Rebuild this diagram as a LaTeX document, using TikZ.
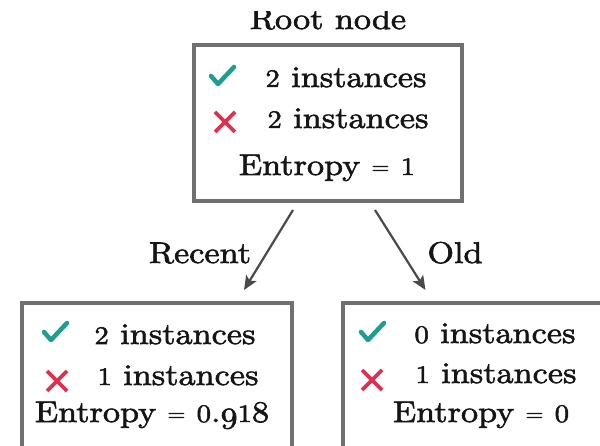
\documentclass[tikz,border=0pt]{standalone}
\usepackage{fontspec}
\setmainfont{lmroman10-regular.otf}[FakeStretch=1.14, FakeBold=2]
\usetikzlibrary{arrows.meta,calc}
\definecolor{ink}{HTML}{151515}
\definecolor{boxgray}{HTML}{707070}
\definecolor{arrowgray}{HTML}{4A4A4A}
\definecolor{tickgreen}{HTML}{1E9E8E}
\definecolor{crossred}{HTML}{E0304E}
% old-style figures built from the lining ones
\newcommand\sd[1]{\scalebox{0.84}{#1}}        % x-height figures: 0 1 2
\newcommand\dd[1]{\raisebox{-6.5pt}{#1}}       % descending figure: 9
\newcommand\eqs{\raisebox{1.5pt}{\fontsize{20}{20}\selectfont =}}
\begin{document}
\begin{tikzpicture}[x=1pt,y=-1pt,
  box/.style={draw=boxgray, line width=4pt, rectangle, inner sep=0pt},
  txt/.style={font=\fontsize{30}{36}\selectfont, text=ink, inner sep=0pt, anchor=base},
  link/.style={draw=arrowgray, line width=2.2pt, -{Stealth[length=14pt,width=12pt,inset=3pt]}},
  tickmark/.pic={\draw[tickgreen, line width=4.5pt, line cap=round, line join=round] (-11,-1) -- (-4,7) -- (12,-10);},
  crossmark/.pic={\draw[crossred, line width=3.6pt] (-10,-10) -- (10,10) (-10,10) -- (10,-10);}
]
\clip (0,0) rectangle (600,446);
\fill[white] (0,0) rectangle (600,446);

% title, its top trimmed
\begin{scope}
  \clip (0,12) rectangle (600,40);
  \node[txt] (title) at (328,29) {Root node};
\end{scope}

% boxes
\node[box, minimum width=268pt, minimum height=156pt] (root) at (328,123) {};
\node[box, minimum width=270pt, minimum height=217pt] (left) at (157,411.5) {};
\node[box, minimum width=317pt, minimum height=217pt] (right) at (501.5,411.5) {};

% root contents
\pic at (222,77) {tickmark};
\pic at (225,122) {crossmark};
\node[txt] (r1) at (346,87) {\sd{2} instances};
\node[txt] (r2) at (348,128) {\sd{2} instances};
\node[txt] (r3) at (327,175) {Entropy \eqs{} \sd{1}};

% left child contents
\pic at (55,333) {tickmark};
\pic at (57,381) {crossmark};
\node[txt] (l1) at (175,344) {\sd{2} instances};
\node[txt] (l2) at (178,385) {\sd{1} instances};
\node[txt] (l3) at (152,422) {Entropy \eqs{} \sd{0}.\dd{9}\sd{1}8};

% right child contents
\pic at (372,333) {tickmark};
\pic at (372,380) {crossmark};
\node[txt] (q1) at (495,343) {\sd{0} instances};
\node[txt] (q2) at (496,383) {\sd{1} instances};
\node[txt] (q3) at (481,422) {Entropy \eqs{} \sd{0}};

% branches
\draw[link] ([shift={(-35,7)}]root.south) -- ([shift={(87,-11)}]left.north);
\draw[link] ([shift={(47,7)}]root.south) -- ([shift={(-76,-11)}]right.north);
\node[txt] (recent) at (200,263) {Recent};
\node[txt] (old) at (455,263) {Old};
\end{tikzpicture}
\end{document}
